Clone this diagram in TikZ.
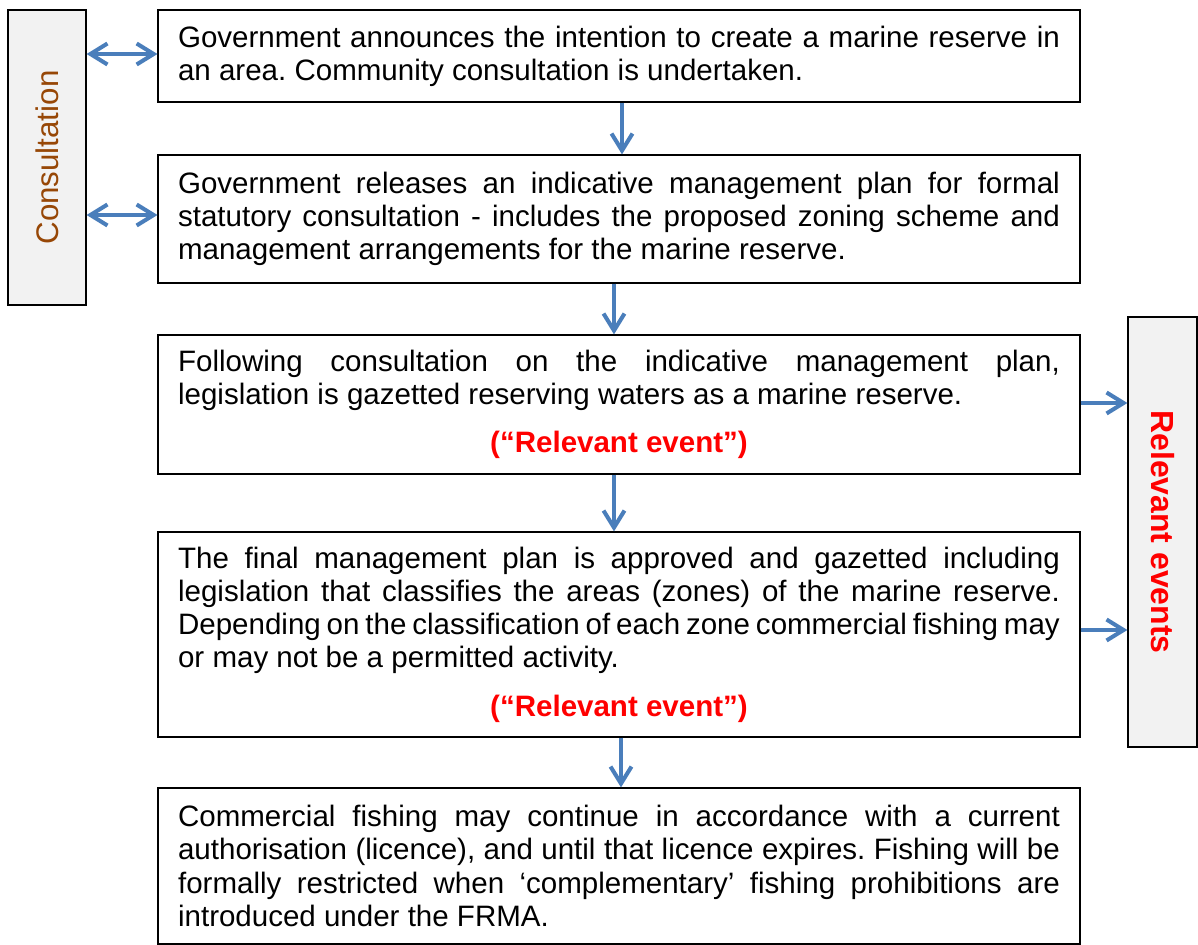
\documentclass[tikz,border=0pt]{standalone}
\usepackage{fontspec}
\setmainfont{Liberation Sans}
\usepackage{xcolor}
\usetikzlibrary{positioning,arrows.meta}
\definecolor{arrowblue}{RGB}{74,126,187}
\definecolor{consultbrown}{RGB}{151,71,6}
\definecolor{sidegray}{RGB}{242,242,242}
\hyphenpenalty=10000
\exhyphenpenalty=10000
\frenchspacing

\begin{document}
\begin{tikzpicture}[x=0.02cm, y=-0.02cm,
    box/.style={draw, line width=0.7pt, text width=17.64cm, inner xsep=0.4cm, inner ysep=0pt,
        align=justify, font=\fontsize{16.8}{18.9}\selectfont},
    sidebox/.style={draw, line width=0.7pt, fill=sidegray, inner sep=0pt},
    flow/.style={draw=arrowblue, line width=2.3pt, -{Straight Barb[length=3.4mm,width=4.2mm]}},
    flowboth/.style={flow, {Straight Barb[length=3.4mm,width=4.2mm]}-{Straight Barb[length=3.4mm,width=4.2mm]}}]
    \useasboundingbox (0,0) rectangle (1198,945);

    % Side boxes
    \node[sidebox, rotate=90, minimum width=5.9cm, minimum height=1.56cm, text=consultbrown,
        font=\fontsize{17.8}{20}\selectfont] (consult) at (47,157.5) {Consultation};
    \node[sidebox, rotate=-90, minimum width=8.6cm, minimum height=1.38cm, text=red,
        font=\fontsize{18.2}{20}\selectfont\bfseries] (events) at (1162.5,532) {Relevant events};

    % Steps
    \node[box, minimum height=1.84cm] (announce) at (619,56)
        {Government announces the intention to create a marine reserve in an area. Community consultation is undertaken.};
    \node[box, minimum height=2.56cm] (indicative) at (619,219)
        {Government releases an indicative management plan for formal statutory consultation - includes the proposed zoning scheme and management arrangements for the marine reserve.};
    \node[box, minimum height=2.78cm] (gazette) at (619,404.5)
        {Following consultation on the indicative management plan, legislation is gazetted reserving waters as a marine reserve.\\[8.5pt]
        \makebox[\linewidth][c]{\bfseries\color{red}(“Relevant event”)}};
    \node[box, minimum height=4.1cm] (final) at (619,634.5)
        {The final management plan is approved and gazetted including legislation that classifies the areas (zones) of the marine reserve. Depending on the classification of each zone commercial fishing may or may not be a permitted activity.\\[8.5pt]
        \makebox[\linewidth][c]{\bfseries\color{red}(“Relevant event”)}};
    \node[box, minimum height=3.12cm] (fishing) at (619,866)
        {Commercial fishing may continue in accordance with a current authorisation (licence), and until that licence expires. Fishing will be\linebreak formally restricted when ‘complementary’ fishing prohibitions are introduced under the FRMA.};

    % Flow down
    \draw[flow] ([xshift=0.06cm]announce.south) -- ([xshift=0.06cm]indicative.north);
    \draw[flow] ([xshift=-0.1cm]indicative.south) -- ([xshift=-0.1cm]gazette.north);
    \draw[flow] ([xshift=-0.1cm]gazette.south) -- ([xshift=-0.1cm]final.north);
    \draw[flow] ([xshift=0.04cm]final.south) -- ([xshift=0.04cm]fishing.north);

    % Consultation links
    \draw[flowboth] ([yshift=0.04cm]announce.west -| consult.south) -- ([yshift=0.04cm]announce.west);
    \draw[flowboth] ([yshift=0.08cm]indicative.west -| consult.south) -- ([yshift=0.08cm]indicative.west);

    % Relevant events
    \draw[flow] ([yshift=0.03cm]gazette.east) -- ([yshift=0.03cm]gazette.east -| events.south);
    \draw[flow] ([yshift=0.09cm]final.east) -- ([yshift=0.09cm]final.east -| events.south);
\end{tikzpicture}
\end{document}
